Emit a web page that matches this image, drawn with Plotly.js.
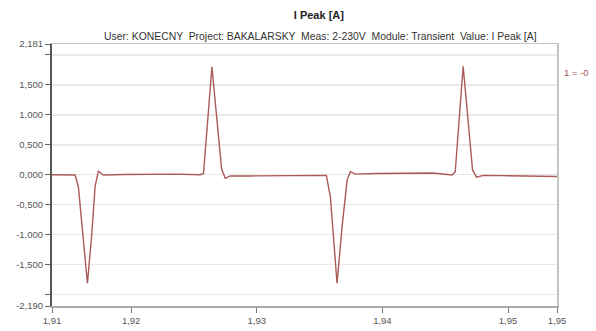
<!DOCTYPE html>
<html>
<head>
<meta charset="utf-8">
<script src="https://cdn.plot.ly/plotly-3.0.1.min.js"></script>
<style>
  html, body { margin: 0; padding: 0; background: #ffffff; }
  #chart { width: 596px; height: 331px; }
</style>
</head>
<body>
<div id="chart"></div>
<script>
// Time axis [s] and measured current I Peak [A]
const timeS = [
  1.9137, 1.9145, 1.9152, 1.91554, 1.91580, 1.91615, 1.91652, 1.91687, 1.91713, 1.91739, 1.91779,
  1.9195, 1.9215, 1.9235, 1.92550, 1.92576, 1.92643, 1.92683, 1.92720, 1.92749, 1.92789,
  1.9295, 1.9315, 1.9340, 1.93554, 1.93586, 1.93612, 1.93639, 1.93679, 1.93719, 1.93745, 1.93785,
  1.9395, 1.9420, 1.9440, 1.94555, 1.94580, 1.94643, 1.94680, 1.94718, 1.94749, 1.94805,
  1.9495, 1.9515, 1.9539
];
const currentA = [
  0.000, -0.005, -0.005, -0.005, -0.20, -0.98, -1.81, -0.98, -0.20, 0.06, -0.005,
  0.005, 0.010, 0.010, 0.000, 0.02, 1.80, 0.90, 0.10, -0.06, -0.02,
  -0.020, -0.015, -0.010, -0.010, -0.37, -1.09, -1.81, -0.87, -0.09, 0.05, 0.01,
  0.020, 0.030, 0.030, -0.005, 0.05, 1.81, 0.90, 0.08, -0.04, -0.01,
  -0.015, -0.025, -0.030
];

// Axis ticks (labels use a decimal comma)
const xTickVals = [1.9137, 1.92, 1.93, 1.94, 1.95, 1.9539];
const xTickText = ['1,91', '1,92', '1,93', '1,94', '1,95', '1,95'];
const yTickVals = [2.181, 2.0, 1.5, 1.0, 0.5, 0.0, -0.5, -1.0, -1.5, -2.0, -2.190];
const yTickText = ['2,181', '', '1,500', '1,000', '0,500', '0,000', '-0,500', '-1,000', '-1,500', '', '-2,190'];

const narrow = '"Liberation Sans Narrow", "Arial Narrow", "Liberation Sans", Arial, sans-serif';

const trace = {
  x: timeS,
  y: currentA,
  type: 'scatter',
  mode: 'lines',
  line: { color: '#aa5a58', width: 1.4 },
  hoverinfo: 'skip',
  showlegend: false
};

const layout = {
  width: 596,
  height: 331,
  margin: { l: 52, r: 39, t: 44, b: 25, pad: 0 },
  paper_bgcolor: '#ffffff',
  plot_bgcolor: '#ffffff',
  title: {
    text: '<b>I Peak [A]</b>',
    font: { family: '"Liberation Sans", Arial, sans-serif', size: 11, color: '#222222' },
    x: 0.535, xanchor: 'center',
    y: 0.955, yanchor: 'middle', yref: 'container'
  },
  annotations: [
    {
      text: 'User: KONECNY  Project: BAKALARSKY  Meas: 2-230V  Module: Transient  Value: I Peak [A]',
      xref: 'paper', yref: 'paper', x: 0.531, y: 1.0, xanchor: 'center', yanchor: 'bottom',
      yshift: 0, showarrow: false,
      font: { family: narrow, size: 10.4, color: '#333333' }
    },
    {
      text: '1 = -0',
      xref: 'paper', yref: 'paper', x: 1.0, y: 0.89, xanchor: 'left', yanchor: 'middle',
      xshift: 5, showarrow: false,
      font: { family: narrow, size: 9.5, color: '#a5524f' }
    }
  ],
  xaxis: {
    range: [1.9137, 1.9539],
    tickmode: 'array', tickvals: xTickVals, ticktext: xTickText,
    ticks: 'outside', ticklen: 5, tickcolor: '#777777', tickwidth: 1,
    showgrid: false, zeroline: false,
    showline: true, linecolor: '#aaaaaa', linewidth: 2, mirror: false,
    tickfont: { family: narrow, size: 9.5, color: '#555555' },
    fixedrange: true
  },
  xaxis2: {
    overlaying: 'x', side: 'top', range: [1.9137, 1.9539],
    showline: true, linecolor: '#c4c4c4', linewidth: 1.5,
    showticklabels: false, ticks: '', showgrid: false, zeroline: false
  },
  yaxis: {
    range: [-2.190, 2.181],
    tickmode: 'array', tickvals: yTickVals, ticktext: yTickText,
    ticks: 'outside', ticklen: 5, tickcolor: '#666666', tickwidth: 1,
    showgrid: true, gridcolor: '#e8e8e8', gridwidth: 1.5,
    zeroline: false,
    showline: true, linecolor: '#555555', linewidth: 2,
    tickfont: { family: narrow, size: 9.5, color: '#555555' },
    fixedrange: true
  },
  yaxis2: {
    overlaying: 'y', side: 'right', range: [-2.190, 2.181],
    showline: true, linecolor: '#c4c4c4', linewidth: 1.5,
    showticklabels: false, ticks: '', showgrid: false, zeroline: false
  }
};

// invisible helper trace so the top/right frame axes are drawn
const frameTrace = {
  x: [1.9137], y: [0], xaxis: 'x2', yaxis: 'y2',
  mode: 'markers', marker: { opacity: 0 }, hoverinfo: 'skip', showlegend: false
};

Plotly.newPlot('chart', [frameTrace, trace], layout, { staticPlot: true, displayModeBar: false });
</script>
</body>
</html>
